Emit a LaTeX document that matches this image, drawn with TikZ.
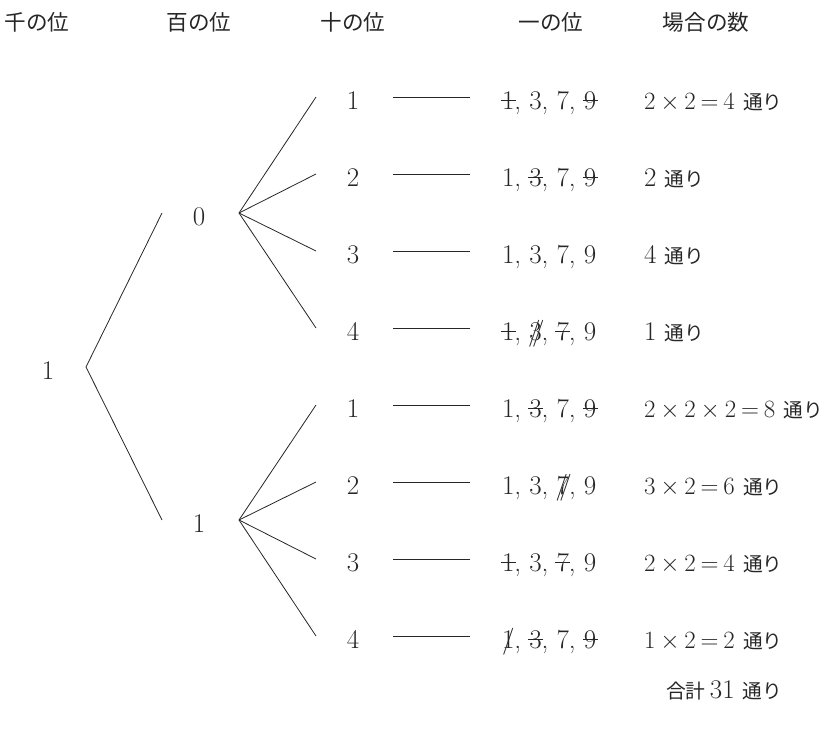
\documentclass[tikz,border=0pt]{standalone}
\usepackage{fontspec}
\newfontfamily\jp{Noto Sans CJK JP}[Scale=0.73]
\newfontfamily\jph{Noto Sans CJK JP}[Scale=0.8]
\medmuskip=3.5mu
\thickmuskip=3.5mu
\newcommand\hx[1]{\ooalign{#1\cr\hidewidth\rule[.3em]{.56em}{.035em}\hidewidth\cr}}
\newcommand\sx[1]{\ooalign{#1\cr\hidewidth/\hidewidth\cr}}
\newcommand\dx[1]{\ooalign{#1\cr\hidewidth\kern-.08em/\hidewidth\cr\hidewidth\kern.2em/\hidewidth\cr}}
\newcommand\tw{{\jp 通り}}
\tikzset{
  every node/.style={inner sep=0pt, outer sep=0pt, text=black!85},
  txt/.style={anchor=base west},
  dig/.style={anchor=base},
  hd/.style={anchor=base, font={\fontsize{27}{31}\selectfont\jph}},
  br/.style={line width=0.8pt, black!85}
}
\begin{document}
\begin{tikzpicture}[x=1pt,y=-1pt, font=\fontsize{27}{31}\selectfont]
\useasboundingbox (0,0) rectangle (825,729);
% headers
\node[hd] (h1) at (37,30) {千の位};
\node[hd] (h2) at (199,30) {百の位};
\node[hd] (h3) at (353,30) {十の位};
\node[hd] (h4) at (551,30) {一の位};
\node[hd] (h5) at (706,30) {場合の数};
% tree
\node[dig] (th) at (48,379) {1};
\node[dig] (z) at (199,225) {0};
\node[dig] (o) at (199,532) {1};
\coordinate (r) at (86,367);
\coordinate (zl) at (162,213);
\coordinate (ol) at (162,520);
\coordinate (zr) at (239,213);
\coordinate (or) at (239,520);
\draw[br] (zl) -- (r) -- (ol);
\foreach \i/\y/\d in {1/97/1,2/174/2,3/251/3,4/328/4,5/405/1,6/482/2,7/559/3,8/636/4}{
  \coordinate (e\i) at (316,\y);
  \coordinate (a\i) at (393,\y);
  \coordinate (b\i) at (470,\y);
  \node[dig] (t\i) at (353,\y+12) {\d};
  \draw[br] (a\i) -- (b\i);
}
\foreach \i in {1,2,3,4}{\draw[br] (zr) -- (e\i);}
\foreach \i in {5,6,7,8}{\draw[br] (or) -- (e\i);}
% units
\node[txt] (u1) at (502,109) {\hx{1}, 3, 7, \hx{9}};
\node[txt] (u2) at (502,186) {1, \hx{3}, 7, \hx{9}};
\node[txt] (u3) at (502,263) {1, 3, 7, 9};
\node[txt] (u4) at (502,340) {\hx{1}, \dx{3}, \hx{7}, 9};
\node[txt] (u5) at (502,417) {1, \hx{3}, 7, \hx{9}};
\node[txt] (u6) at (502,494) {1, 3, \dx{7}, 9};
\node[txt] (u7) at (502,571) {\hx{1}, 3, \hx{7}, 9};
\node[txt] (u8) at (502,648) {\sx{1}, \hx{3}, 7, \hx{9}};
% counts
\node[txt] (c1) at (644,109) {$2\times2=4$ \tw};
\node[txt] (c2) at (644,186) {2 \tw};
\node[txt] (c3) at (644,263) {4 \tw};
\node[txt] (c4) at (644,340) {1 \tw};
\node[txt] (c5) at (644,417) {$2\times2\times2=8$ \tw};
\node[txt] (c6) at (644,494) {$3\times2=6$ \tw};
\node[txt] (c7) at (644,571) {$2\times2=4$ \tw};
\node[txt] (c8) at (644,648) {$1\times2=2$ \tw};
\node[txt] (tot) at (666,698) {{\jp 合計}\,31 \tw};
\end{tikzpicture}
\end{document}
